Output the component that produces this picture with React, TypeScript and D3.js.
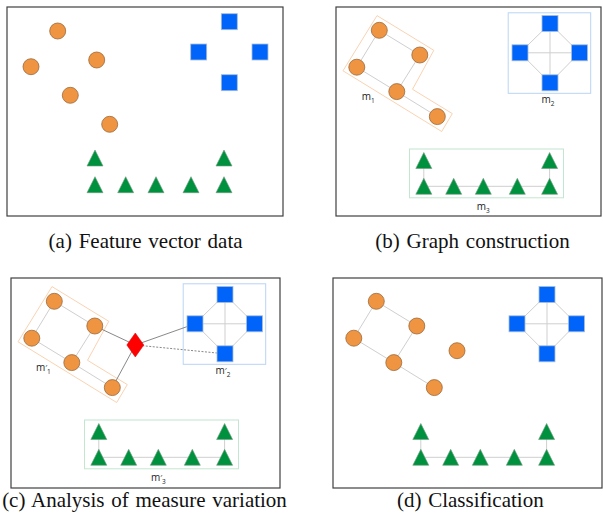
import { useEffect, useRef } from 'react';
import * as d3 from 'd3';

// node positions, local to each panel frame
const circlesA = [[50.7, 24], [24, 59.7], [89.7, 53], [63.3, 88.3], [102.7, 117.3]];
const squaresA = [[222.3, 14.7], [191.7, 45], [253, 45], [222.3, 75.7]];
const trianglesA = [[88, 151], [217, 151], [88, 177.7], [118.7, 177.7], [149, 177.7], [184, 177.7], [217, 177.7]];

const circlesG = [[43.3, 23.3], [20.8, 60.2], [83.8, 48], [60.8, 84.6], [101.3, 109.6]];
const squaresG = [[214, 16.5], [184, 45.8], [243.5, 45.8], [214, 75.8]];
const trianglesG = [[87.8, 153.5], [213.6, 153.5], [87.8, 179.3], [117.7, 179.3], [147.3, 179.3], [181.3, 179.3], [213.6, 179.3]];

const circleEdges = [[0, 1], [0, 2], [1, 3], [2, 3], [3, 4]];
const squareEdges = [[0, 1], [0, 2], [1, 3], [2, 3], [0, 3], [1, 2]];
const triangleEdges = [[0, 2], [1, 6], [2, 3], [3, 4], [4, 5], [5, 6]];

const hullM1 = [[41, 8.6], [97.8, 43.3], [76.5, 82.3], [116.3, 106.6], [105.7, 124.5], [7, 63.8]];
const boxM2 = [[172.2, 5.8], [254.7, 86.3]];
const boxM3 = [[73.5, 142], [227.5, 190.8]];
const labelPos = [[32.3, 89.5], [212, 92.8], [147.3, 200]];
const labelSubs = ['1', '2', '3'];

const queryPoint = [124.3, 67];
const queryLinks = [['c', 2], ['c', 4], ['s', 1], ['s', 3]];
const classifiedPoint = [124, 72.7];

const captions = ['(a) Feature vector data', '(b) Graph construction', '(c) Analysis of measure variation', '(d) Classification'];

const ORANGE = '#ef9440';
const BLUE = '#0064fa';
const GREEN = '#00913f';

const App = () => {
  const ref = useRef(null);

  useEffect(() => {
    draw();
  }, []);

  const draw = () => {
    d3.select(ref.current).selectAll('*').remove();
    const svg = d3.select(ref.current)
      .append('svg')
      .attr('width', 603)
      .attr('height', 520)
      .style('position', 'absolute')
      .style('left', 0)
      .style('top', 0)
      .style('background', '#fff');

    const frames = [
      { x: 7, y: 7, w: 276, h: 209, cx: 145.6, cy: 248 },
      { x: 336, y: 7, w: 265, h: 209, cx: 472.5, cy: 248 },
      { x: 11, y: 278, w: 269, h: 210, cx: 144.5, cy: 507 },
      { x: 333, y: 278, w: 269, h: 210, cx: 470.3, cy: 507 },
    ];

    frames.forEach((f, i) => {
      svg.append('rect')
        .attr('x', f.x).attr('y', f.y).attr('width', f.w).attr('height', f.h)
        .attr('fill', 'none').attr('stroke', '#404040').attr('stroke-width', 1.2);
      svg.append('text')
        .attr('x', f.cx).attr('y', f.cy)
        .attr('text-anchor', 'middle')
        .style('font-family', 'Liberation Serif, Times New Roman, serif')
        .style('font-size', '21px')
        .style('word-spacing', '1.5px')
        .attr('fill', '#111')
        .text(captions[i]);
    });

    const panel = (f) => {
      const x = d3.scaleLinear().domain([0, f.w]).range([f.x, f.x + f.w]);
      const y = d3.scaleLinear().domain([0, f.h]).range([f.y, f.y + f.h]);
      const g = svg.append('g');
      return { x, y, g };
    };

    const circles = (p, pts) => {
      p.g.selectAll(null).data(pts).enter().append('circle')
        .attr('cx', d => p.x(d[0])).attr('cy', d => p.y(d[1])).attr('r', 8)
        .attr('fill', ORANGE).attr('stroke', '#9a6a3e').attr('stroke-width', 0.8);
    };
    const squares = (p, pts) => {
      p.g.selectAll(null).data(pts).enter().append('rect')
        .attr('x', d => p.x(d[0]) - 8).attr('y', d => p.y(d[1]) - 8)
        .attr('width', 16).attr('height', 16)
        .attr('fill', BLUE).attr('stroke', '#a9bdd6').attr('stroke-width', 0.8);
    };
    const triangles = (p, pts) => {
      p.g.selectAll(null).data(pts).enter().append('path')
        .attr('d', d => {
          const cx = p.x(d[0]), cy = p.y(d[1]);
          return `M${cx},${cy - 8}L${cx + 8},${cy + 8}L${cx - 8},${cy + 8}Z`;
        })
        .attr('fill', GREEN).attr('stroke', '#6f9c80').attr('stroke-width', 0.6);
    };
    const edges = (p, pts, list) => {
      p.g.selectAll(null).data(list).enter().append('line')
        .attr('x1', d => p.x(pts[d[0]][0])).attr('y1', d => p.y(pts[d[0]][1]))
        .attr('x2', d => p.x(pts[d[1]][0])).attr('y2', d => p.y(pts[d[1]][1]))
        .attr('stroke', '#cfcfcf').attr('stroke-width', 1);
    };
    const groups = (p, prime) => {
      p.g.append('path')
        .attr('d', d3.line()(hullM1.map(d => [p.x(d[0]), p.y(d[1])])) + 'Z')
        .attr('fill', 'none').attr('stroke', '#fad3b2').attr('stroke-width', 1);
      p.g.append('rect')
        .attr('x', p.x(boxM2[0][0])).attr('y', p.y(boxM2[0][1]))
        .attr('width', p.x(boxM2[1][0]) - p.x(boxM2[0][0]))
        .attr('height', p.y(boxM2[1][1]) - p.y(boxM2[0][1]))
        .attr('fill', 'none').attr('stroke', '#b8d4f4').attr('stroke-width', 1);
      p.g.append('rect')
        .attr('x', p.x(boxM3[0][0])).attr('y', p.y(boxM3[0][1]))
        .attr('width', p.x(boxM3[1][0]) - p.x(boxM3[0][0]))
        .attr('height', p.y(boxM3[1][1]) - p.y(boxM3[0][1]))
        .attr('fill', 'none').attr('stroke', '#c2e6d0').attr('stroke-width', 1);
      labelPos.forEach((d, i) => {
        const t = p.g.append('text')
          .attr('x', p.x(d[0])).attr('y', p.y(d[1]) + 3)
          .attr('text-anchor', 'middle')
          .style('font-family', 'Open Sans, DejaVu Sans, sans-serif')
          .style('font-size', '10px')
          .attr('fill', '#222');
        t.append('tspan').text('m');
        if (prime) t.append('tspan').style('font-size', '8px').attr('dy', -1).text('\u2032');
        t.append('tspan').style('font-size', '6.5px').attr('dy', prime ? 4 : 3).text(labelSubs[i]);
      });
    };

    // (a) raw feature vectors
    const pa = panel(frames[0]);
    circles(pa, circlesA);
    squares(pa, squaresA);
    triangles(pa, trianglesA);

    // (b) graph construction
    const pb = panel(frames[1]);
    groups(pb, false);
    edges(pb, circlesG, circleEdges);
    edges(pb, squaresG, squareEdges);
    edges(pb, trianglesG, triangleEdges);
    circles(pb, circlesG);
    squares(pb, squaresG);
    triangles(pb, trianglesG);

    // (c) new point linked to the components
    const pc = panel(frames[2]);
    groups(pc, true);
    edges(pc, circlesG, circleEdges);
    edges(pc, squaresG, squareEdges);
    edges(pc, trianglesG, triangleEdges);
    pc.g.selectAll(null).data(queryLinks).enter().append('line')
      .attr('x1', pc.x(queryPoint[0])).attr('y1', pc.y(queryPoint[1]))
      .attr('x2', d => pc.x((d[0] === 'c' ? circlesG : squaresG)[d[1]][0]))
      .attr('y2', d => pc.y((d[0] === 'c' ? circlesG : squaresG)[d[1]][1]))
      .attr('stroke', '#6a6a6a').attr('stroke-width', 0.8)
      .attr('stroke-dasharray', (d, i) => (i === 3 ? '2,1.5' : null));
    circles(pc, circlesG);
    squares(pc, squaresG);
    triangles(pc, trianglesG);
    const qx = pc.x(queryPoint[0]), qy = pc.y(queryPoint[1]);
    pc.g.append('path')
      .attr('d', `M${qx},${qy - 12}L${qx + 8.5},${qy}L${qx},${qy + 12}L${qx - 8.5},${qy}Z`)
      .attr('fill', '#ff0000').attr('stroke', '#d00000').attr('stroke-width', 0.5);

    // (d) classification
    const pd = panel(frames[3]);
    edges(pd, circlesG, circleEdges);
    edges(pd, squaresG, squareEdges);
    edges(pd, trianglesG, triangleEdges);
    circles(pd, circlesG.concat([classifiedPoint]));
    squares(pd, squaresG);
    triangles(pd, trianglesG);
  };

  return <div ref={ref}></div>;
};

export default App;
